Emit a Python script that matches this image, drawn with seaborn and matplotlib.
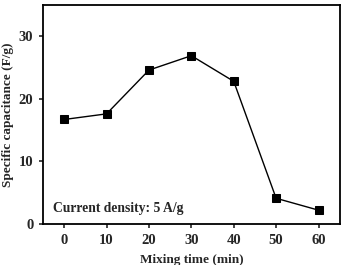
import matplotlib
matplotlib.use("Agg")
import matplotlib.pyplot as plt
import seaborn as sns
import pandas as pd

mixing_time = [0, 10, 20, 30, 40, 50, 60]
capacitance = [16.7, 17.6, 24.6, 26.9, 22.8, 4.1, 2.2]

df = pd.DataFrame({"time": mixing_time, "cap": capacitance})

sns.set_style("ticks")
plt.rcParams['font.family'] = ['Liberation Serif', 'DejaVu Serif']
plt.rcParams['font.weight'] = 'bold'

fig = plt.figure(figsize=(3.44, 2.65), dpi=100)
ax = fig.add_axes([0.125, 0.155, 0.8625, 0.826])

sns.lineplot(data=df, x="time", y="cap", ax=ax, color="black", linewidth=1,
             marker="s", markersize=5.5, markerfacecolor="black",
             markeredgecolor="black")

ax.set_xlim(-5, 65)
ax.set_ylim(0, 35)
ax.set_xticks(mixing_time)
ax.set_yticks([0, 10, 20, 30])
ax.set_xlabel("Mixing time (min)", fontsize=9.5, fontweight="bold", labelpad=5)
ax.set_ylabel("Specific capacitance (F/g)", fontsize=9.5, fontweight="bold", labelpad=3)
ax.tick_params(axis="both", direction="out", length=3, width=1.2, labelsize=10.5,
               top=False, right=False, pad=4)
for lab in ax.get_xticklabels() + ax.get_yticklabels():
    lab.set_fontweight("bold")
for s in ax.spines.values():
    s.set_linewidth(1.3)
    s.set_color("black")

ax.text(0.035, 0.07, "Current density: 5 A/g", transform=ax.transAxes,
        fontsize=9.8, fontweight="bold", va="center", ha="left")

fig.savefig("out.png", dpi=100)
